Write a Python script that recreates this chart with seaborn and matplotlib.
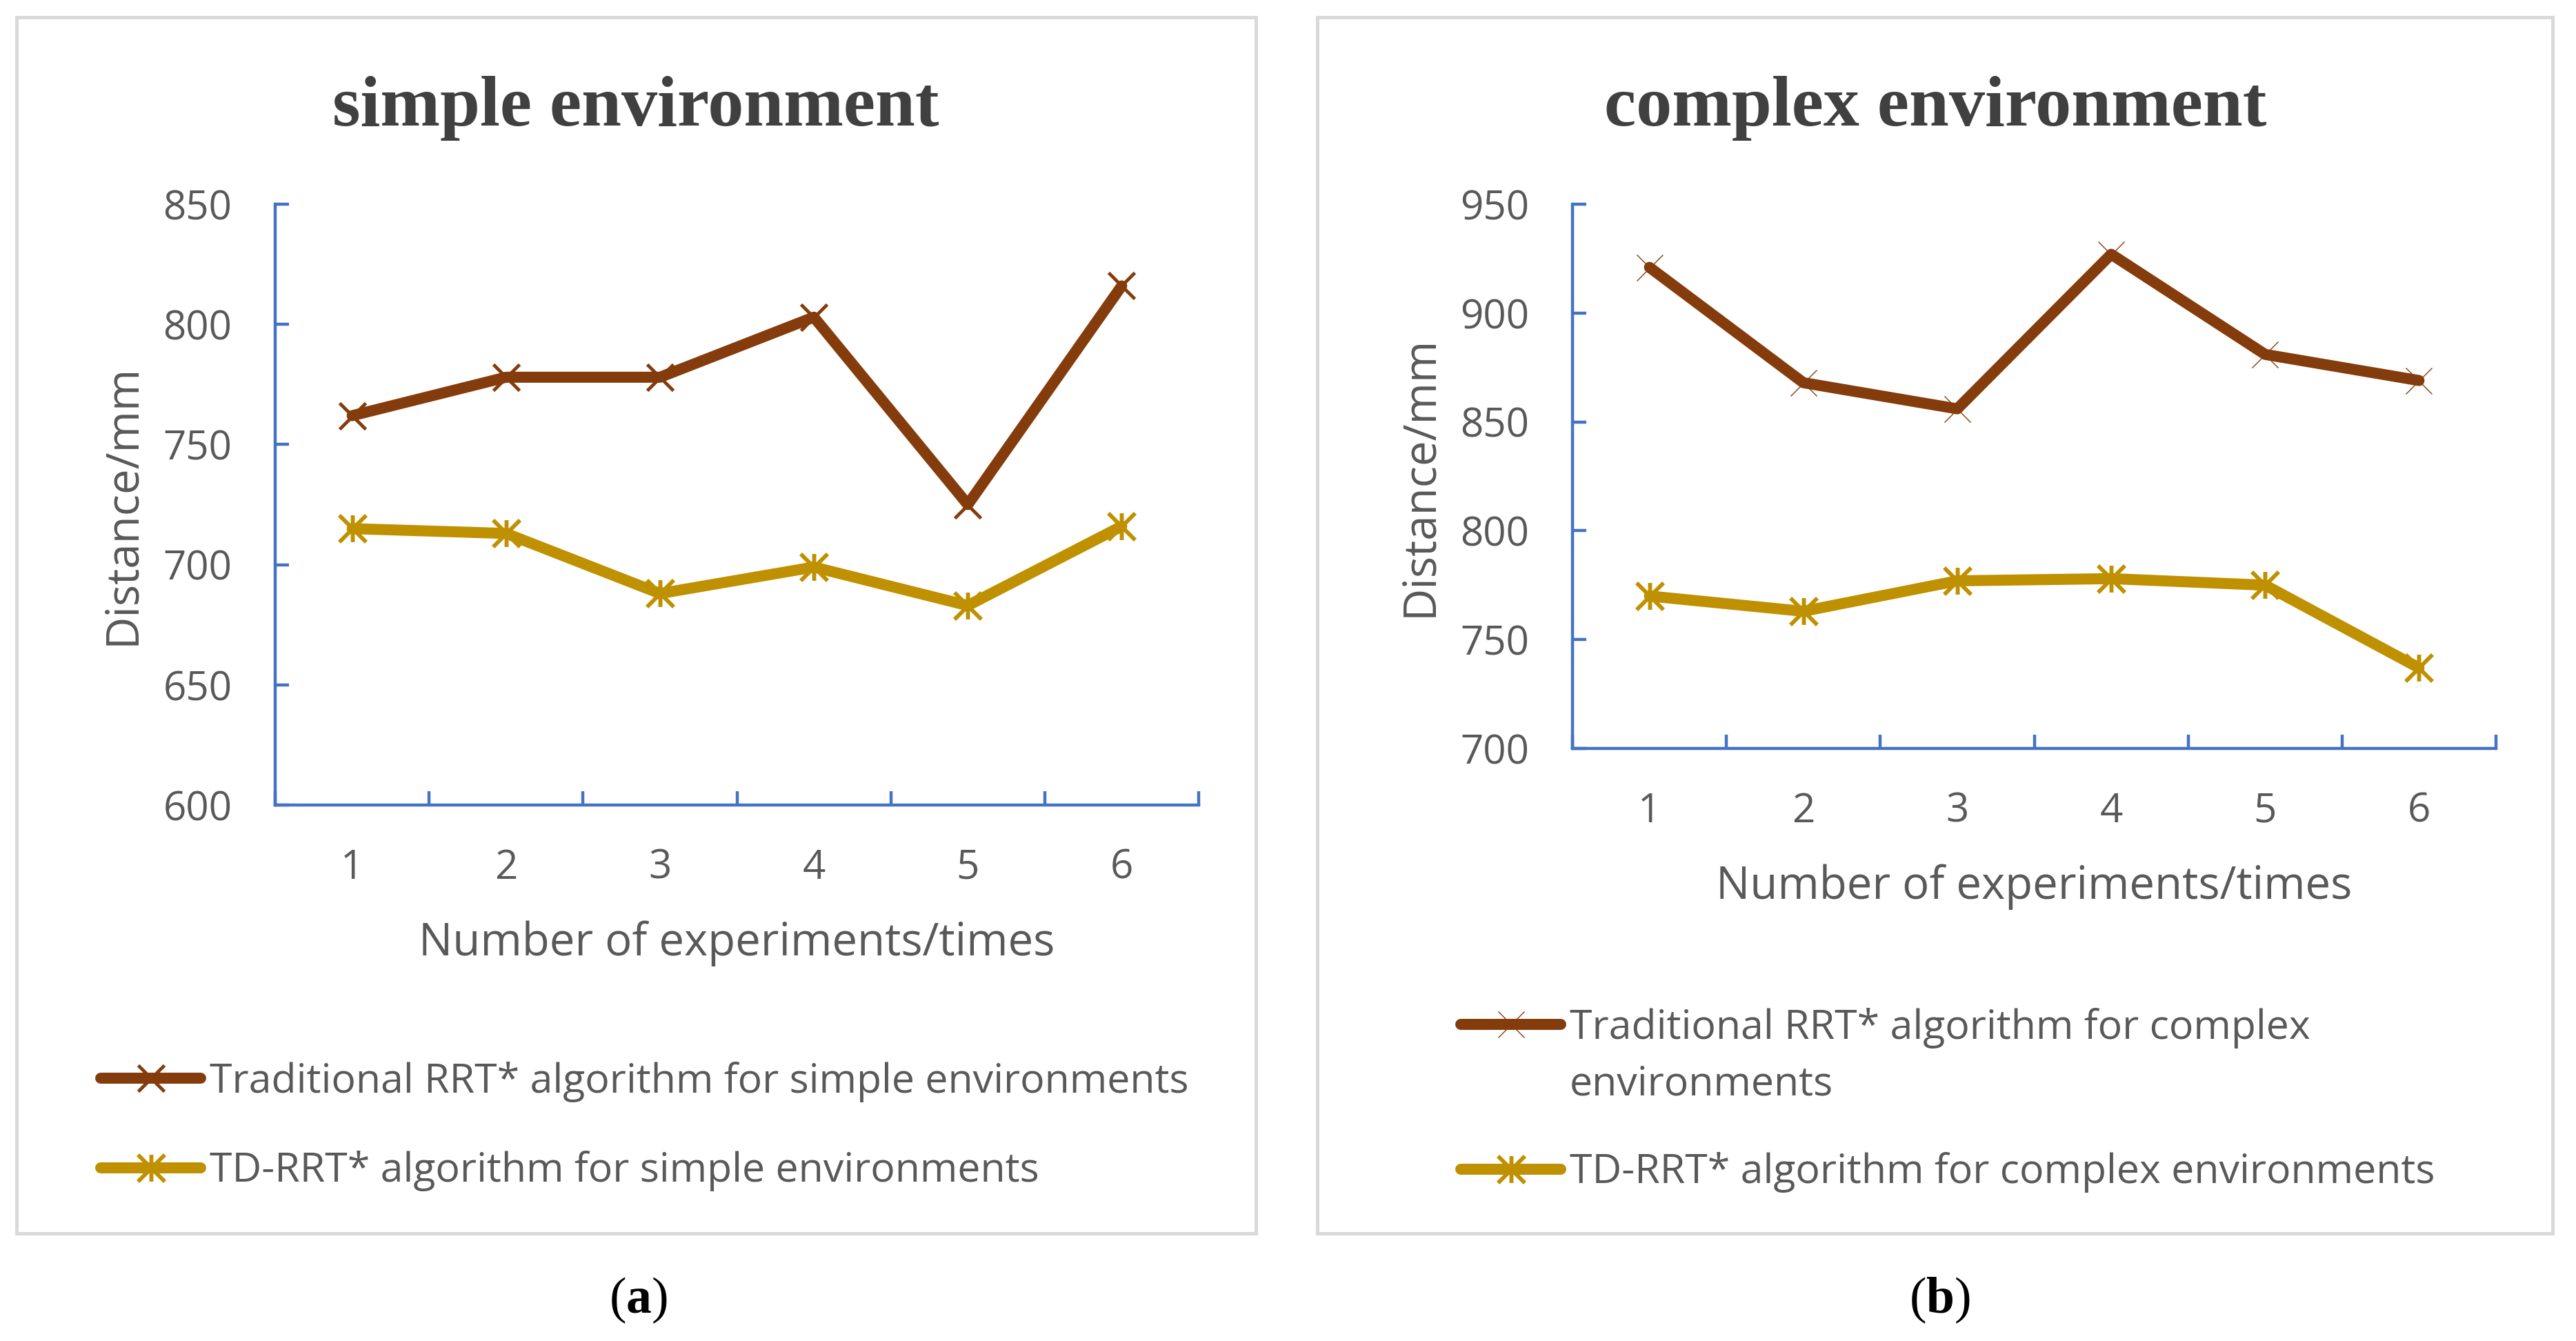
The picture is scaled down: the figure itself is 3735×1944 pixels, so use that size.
import numpy as np
import pandas as pd
import matplotlib
matplotlib.use("Agg")
import matplotlib.pyplot as plt
from matplotlib.path import Path
from matplotlib.patches import Rectangle
import seaborn as sns

# ---------------- data ----------------
experiments = [1, 2, 3, 4, 5, 6]
simple_traditional = [762, 778, 778, 803, 725, 816]
simple_td = [715, 713, 688, 699, 683, 716]
complex_traditional = [921, 868, 856, 927, 881, 869]
complex_td = [770, 763, 777, 778, 775, 737]

simple_title = "simple environment"
complex_title = "complex environment"
x_label = "Number of experiments/times"
y_label = "Distance/mm"
simple_labels = ["Traditional RRT* algorithm for simple environments",
                 "TD-RRT* algorithm for simple environments"]
complex_labels = ["Traditional RRT* algorithm for complex",
                  "TD-RRT* algorithm for complex environments"]
complex_label_wrap = "environments"
simple_yticks = [600, 650, 700, 750, 800, 850]
complex_yticks = [700, 750, 800, 850, 900, 950]

# ---------------- style ----------------
sns.set_style("white")
plt.rcParams['font.family'] = ['Open Sans', 'DejaVu Sans']
plt.rcParams['mathtext.fontset'] = 'custom'
plt.rcParams['mathtext.rm'] = 'Liberation Serif'
plt.rcParams['mathtext.bf'] = 'Liberation Serif:bold'

BROWN = '#843C0C'
GOLD = '#BF9000'
BLUE = '#4472C4'
GRAY = '#595959'
W, H = 3735, 1944
LEG_FS = 42.5

star = Path([(-1, -1), (1, 1), (-1, 1), (1, -1), (0, -1), (0, 1)],
            [Path.MOVETO, Path.LINETO, Path.MOVETO, Path.LINETO, Path.MOVETO, Path.LINETO])

fig = plt.figure(figsize=(W / 100, H / 100), dpi=100)
fig.patch.set_facecolor('white')

# panel borders
for x0, x1 in [(24, 1821), (1910, 3701)]:
    fig.add_artist(Rectangle((x0 / W, 1 - 1788 / H), (x1 - x0) / W, (1788 - 25) / H,
                             transform=fig.transFigure, fill=False,
                             edgecolor='#D9D9D9', linewidth=3.6))

ax1 = fig.add_axes([399 / W, 1 - 1167 / H, 1339 / W, 871 / H])
ax2 = fig.add_axes([2280 / W, 1 - 1085 / H, 1339 / W, 789 / H])

LW = 11.5

def draw(ax, trad, td, labels, trad_mew):
    df = pd.DataFrame({"exp": experiments, "trad": trad, "td": td})
    sns.lineplot(data=df, x="exp", y="trad", ax=ax, color=BROWN, linewidth=LW,
                 marker='x', markersize=28, markeredgewidth=trad_mew,
                 markeredgecolor=BROWN, solid_capstyle='round',
                 solid_joinstyle='round', errorbar=None, legend=False,
                 label=labels[0])
    sns.lineplot(data=df, x="exp", y="td", ax=ax, color=GOLD, linewidth=LW,
                 marker=star, markersize=28, markeredgewidth=4.2,
                 markeredgecolor=GOLD, markerfacecolor='none',
                 solid_capstyle='round', solid_joinstyle='round',
                 errorbar=None, legend=False, label=labels[1])

draw(ax1, simple_traditional, simple_td, simple_labels, 3.5)
draw(ax2, complex_traditional, complex_td, complex_labels, 1.0)

def style_axes(ax, yticks, xlab_y):
    ax.set_xlim(0.5, 6.5)
    ax.set_ylim(yticks[0], yticks[-1])
    ax.set_yticks(yticks)
    ax.set_xticks(experiments)
    ax.set_xticklabels([str(e) for e in experiments])
    ax.set_xticks(np.arange(0.5, 7.0, 1.0), minor=True)
    for s in ['top', 'right']:
        ax.spines[s].set_visible(False)
    for s in ['left', 'bottom']:
        ax.spines[s].set_color(BLUE)
        ax.spines[s].set_linewidth(3.2)
    ax.tick_params(axis='x', which='major', length=0, pad=45,
                   labelsize=42, labelcolor=GRAY, bottom=True)
    ax.tick_params(axis='x', which='minor', direction='in', length=14.4,
                   width=3.2, color=BLUE, bottom=True)
    ax.tick_params(axis='y', which='major', direction='in', length=14.4,
                   width=3.2, color=BLUE, pad=45, labelsize=42,
                   labelcolor=GRAY, left=True)
    ax.set_xlabel(x_label, fontsize=47, color=GRAY)
    ax.set_ylabel(y_label, fontsize=47, color=GRAY)
    ax.xaxis.label.set_verticalalignment('baseline')
    ax.xaxis.set_label_coords(0.5, xlab_y)
    ax.yaxis.label.set_verticalalignment('baseline')
    ax.yaxis.set_label_coords(-0.152, 0.5)
    ax.grid(False)
    ax.set_facecolor('none')

style_axes(ax1, simple_yticks, -218 / 871)
style_axes(ax2, complex_yticks, -218 / 789)

# titles
fig.text(922 / W, 1 - 182 / H, simple_title, fontsize=75, fontweight='bold',
         family='Liberation Serif', color='#404040', ha='center', va='baseline')
fig.text(2806 / W, 1 - 182 / H, complex_title, fontsize=75, fontweight='bold',
         family='Liberation Serif', color='#404040', ha='center', va='baseline')

# sub captions
fig.text(925 / W, 1 - 1903 / H, r'($\mathbf{a}$)', fontsize=53,
         family='Liberation Serif', color='black', ha='center', va='baseline')
fig.text(2812 / W, 1 - 1903 / H, r'($\mathbf{b}$)', fontsize=53,
         family='Liberation Serif', color='black', ha='center', va='baseline')

# legends
def make_legend(ax, x_px, spacing):
    return ax.legend(loc='upper left', bbox_to_anchor=(x_px / W, 0.2),
                     bbox_transform=fig.transFigure, frameon=False, fontsize=LEG_FS,
                     labelcolor=GRAY, handlelength=2.46, handletextpad=0.22,
                     borderpad=0, borderaxespad=0, labelspacing=spacing)

leg1 = make_legend(ax1, 146, 1.2)
leg2 = make_legend(ax2, 2118, 2.55)

fig.canvas.draw()
r = fig.canvas.get_renderer()
for leg, x_px, target in [(leg1, 146, 1563), (leg2, 2118, 1485)]:
    bb = leg.legend_handles[0].get_window_extent(r)
    cy = (bb.y0 + bb.y1) / 2
    shift = (H - target) - cy
    leg.set_bbox_to_anchor((x_px / W, 0.2 + shift / H), transform=fig.transFigure)

fig.canvas.draw()
tb = leg2.get_texts()[0].get_window_extent(r)
fig.text(tb.x0 / W, (tb.y0 - 82) / H, complex_label_wrap, fontsize=LEG_FS,
         color=GRAY, ha='left', va='bottom')

fig.savefig('out.png', dpi=100)
